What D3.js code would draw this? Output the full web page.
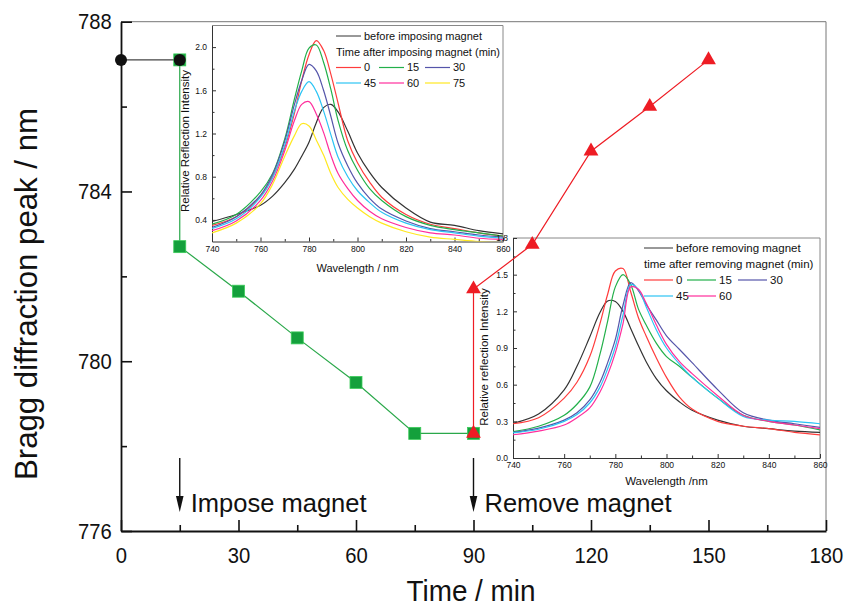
<!DOCTYPE html>
<html>
<head>
<meta charset="utf-8">
<script src="https://cdn.jsdelivr.net/npm/d3@7"></script>
<style>
  body { margin: 0; background: #fff; }
  svg text { font-family: "Liberation Sans", Arial, sans-serif; fill: #111; }
</style>
</head>
<body>
<div id="chart"></div>
<script>
// main chart data (time in min, Bragg peak in nm)
var beforeT = [0, 15];
var beforePeak = [787.1, 787.1];
var imposeT = [15, 15, 30, 45, 60, 75, 90];
var imposePeak = [787.1, 782.7, 781.65, 780.55, 779.5, 778.3, 778.3];
var removeT = [90, 90, 105, 120, 135, 150];
var removePeak = [778.3, 781.7, 782.75, 784.95, 786.0, 787.1];
var xTicks = [0, 30, 60, 90, 120, 150, 180];
var xMinor = [15, 45, 75, 105, 135, 165];
var yTicks = [776, 780, 784, 788];
var yMinor = [778, 782, 786];

// spectra, shared wavelength grid (nm)
var wl = [740, 750, 760, 765, 770, 774, 777, 780, 783, 786, 789, 792, 796, 800, 805, 810, 820, 830, 840, 850, 860];
// inset 1: imposing magnet
var impBefore = [0.385, 0.45, 0.535, 0.62, 0.745, 0.87, 0.99, 1.12, 1.30, 1.44, 1.47, 1.40, 1.22, 1.02, 0.84, 0.70, 0.51, 0.38, 0.35, 0.30, 0.27];
var imp0 = [0.35, 0.43, 0.62, 0.80, 1.07, 1.39, 1.69, 1.93, 2.06, 1.97, 1.75, 1.48, 1.13, 0.93, 0.75, 0.61, 0.45, 0.36, 0.32, 0.28, 0.25];
var imp15 = [0.36, 0.45, 0.66, 0.83, 1.15, 1.52, 1.78, 1.99, 2.02, 1.86, 1.61, 1.32, 1.04, 0.86, 0.69, 0.58, 0.43, 0.35, 0.31, 0.28, 0.25];
var imp30 = [0.33, 0.43, 0.63, 0.82, 1.13, 1.47, 1.69, 1.84, 1.78, 1.60, 1.36, 1.11, 0.90, 0.74, 0.60, 0.50, 0.39, 0.32, 0.29, 0.26, 0.24];
var imp45 = [0.32, 0.41, 0.61, 0.79, 1.09, 1.41, 1.59, 1.68, 1.59, 1.41, 1.19, 0.98, 0.80, 0.67, 0.56, 0.47, 0.37, 0.31, 0.28, 0.25, 0.23];
var imp60 = [0.30, 0.39, 0.58, 0.76, 1.04, 1.32, 1.47, 1.495, 1.38, 1.21, 1.00, 0.83, 0.69, 0.58, 0.48, 0.41, 0.33, 0.28, 0.26, 0.23, 0.22];
var imp75 = [0.28, 0.37, 0.55, 0.73, 0.99, 1.18, 1.29, 1.27, 1.14, 1.00, 0.83, 0.70, 0.59, 0.51, 0.43, 0.37, 0.29, 0.24, 0.22, 0.20, 0.19];
// inset 2: removing magnet
var remBefore = [0.284, 0.36, 0.557, 0.75, 0.99, 1.19, 1.285, 1.28, 1.20, 1.06, 0.92, 0.79, 0.65, 0.55, 0.46, 0.39, 0.31, 0.26, 0.24, 0.22, 0.21];
var rem0 = [0.28, 0.33, 0.49, 0.62, 0.83, 1.10, 1.34, 1.53, 1.55, 1.36, 1.15, 1.00, 0.82, 0.66, 0.50, 0.40, 0.30, 0.26, 0.24, 0.21, 0.19];
var rem15 = [0.215, 0.26, 0.35, 0.44, 0.58, 0.85, 1.12, 1.40, 1.50, 1.42, 1.22, 1.09, 0.94, 0.83, 0.75, 0.66, 0.49, 0.35, 0.30, 0.27, 0.23];
var rem30 = [0.21, 0.245, 0.31, 0.37, 0.475, 0.62, 0.78, 0.97, 1.25, 1.435, 1.37, 1.26, 1.13, 1.00, 0.89, 0.78, 0.56, 0.37, 0.31, 0.28, 0.25];
var rem45 = [0.205, 0.235, 0.30, 0.355, 0.45, 0.58, 0.73, 0.91, 1.17, 1.42, 1.38, 1.24, 1.05, 0.90, 0.77, 0.66, 0.49, 0.34, 0.31, 0.30, 0.28];
var rem60 = [0.19, 0.22, 0.27, 0.33, 0.41, 0.54, 0.68, 0.86, 1.10, 1.40, 1.38, 1.27, 1.09, 0.93, 0.79, 0.69, 0.51, 0.35, 0.30, 0.27, 0.24];
var wlTicks = [740, 760, 780, 800, 820, 840, 860];
var wlMinor = [750, 770, 790, 810, 830, 850];

var col = {black: "#333", red: "#ff3c3c", green: "#22b04a", purple: "#5555aa",
           cyan: "#2cc4f4", magenta: "#ff2e9c", yellow: "#ffe820"};

var svgWidth = 844, svgHeight = 606;
var svg = d3.select("#chart").append("svg")
    .attr("width", svgWidth)
    .attr("height", svgHeight);

var x = d3.scaleLinear().domain([0, 180]).range([121, 826]);
var y = d3.scaleLinear().domain([776, 788]).range([531, 21.7]);

// frame (top + right)
svg.append("path")
    .attr("d", "M" + x(0) + "," + y(788) + "H" + x(180) + "V" + y(776))
    .attr("fill", "none").attr("stroke", "#777").attr("stroke-width", 1);

//axes
var gx = svg.append("g").attr("transform", "translate(0," + y(776) + ")")
    .call(d3.axisBottom(x).tickValues(xTicks).tickSize(-11).tickPadding(16).tickSizeOuter(0));
svg.append("g").attr("transform", "translate(0," + y(776) + ")")
    .call(d3.axisBottom(x).tickValues(xMinor).tickSize(-6).tickFormat(""))
    .select(".domain").remove();
var gy = svg.append("g").attr("transform", "translate(" + x(0) + ",0)")
    .call(d3.axisLeft(y).tickValues(yTicks).tickSize(-11).tickPadding(10).tickSizeOuter(0));
svg.append("g").attr("transform", "translate(" + x(0) + ",0)")
    .call(d3.axisLeft(y).tickValues(yMinor).tickSize(-6).tickFormat(""))
    .select(".domain").remove();
svg.selectAll(".domain").attr("stroke", "#111").attr("stroke-width", 1.8);
svg.selectAll(".tick line").attr("stroke", "#111").attr("stroke-width", 1.6);
[gx, gy].forEach(function(g) {
    g.selectAll("text").style("font-size", "22px").attr("fill", "#111")
        .attr("transform", "scale(0.92,1)");
});

svg.append("text")
    .attr("x", 471).attr("y", 601)
    .attr("text-anchor", "middle")
    .style("font-size", "29px")
    .attr("textLength", 129).attr("lengthAdjust", "spacingAndGlyphs")
    .text("Time / min");
svg.append("text")
    .attr("transform", "translate(37,294) rotate(-90)")
    .attr("text-anchor", "middle")
    .style("font-size", "32px")
    .attr("textLength", 372).attr("lengthAdjust", "spacingAndGlyphs")
    .text("Bragg diffraction peak / nm");

// insets
function drawInset(cfg) {
    var ix = d3.scaleLinear().domain([740, 860]).range([cfg.left, cfg.right]);
    var iy = d3.scaleLinear().domain(cfg.yDomain).range([cfg.bottom, cfg.top]);
    var g = svg.append("g");
    g.append("path")
        .attr("d", "M" + cfg.left + "," + cfg.top + "H" + cfg.right + "V" + cfg.bottom)
        .attr("fill", "none").attr("stroke", "#888").attr("stroke-width", 1);

    var ax = g.append("g").attr("transform", "translate(0," + cfg.bottom + ")")
        .call(d3.axisBottom(ix).tickValues(wlTicks).tickSize(-4).tickPadding(4).tickSizeOuter(0));
    g.append("g").attr("transform", "translate(0," + cfg.bottom + ")")
        .call(d3.axisBottom(ix).tickValues(wlMinor).tickSize(-2.5).tickFormat(""))
        .select(".domain").remove();
    var ay = g.append("g").attr("transform", "translate(" + cfg.left + ",0)")
        .call(d3.axisLeft(iy).tickValues(cfg.yTicks).tickSize(-4).tickPadding(5)
            .tickSizeOuter(0).tickFormat(d3.format(".1f")));
    g.append("g").attr("transform", "translate(" + cfg.left + ",0)")
        .call(d3.axisLeft(iy).tickValues(cfg.yMinor).tickSize(-2.5).tickFormat(""))
        .select(".domain").remove();
    g.selectAll(".domain").attr("stroke", "#333").attr("stroke-width", 1);
    g.selectAll(".tick line").attr("stroke", "#333").attr("stroke-width", 1);
    g.selectAll(".tick text").style("font-size", "8.5px").attr("fill", "#222");

    g.append("text")
        .attr("x", (cfg.left + cfg.right) / 2).attr("y", cfg.bottom + cfg.xTitleGap)
        .attr("text-anchor", "middle").style("font-size", cfg.xTitleSize + "px")
        .text(cfg.xTitle);
    g.append("text")
        .attr("transform", "translate(" + cfg.yTitleX + "," + cfg.yTitleY + ") rotate(-90)")
        .attr("text-anchor", "middle").style("font-size", "11.5px")
        .text(cfg.yTitle);

    var clipId = "clip" + cfg.id;
    g.append("clipPath").attr("id", clipId).append("rect")
        .attr("x", cfg.left).attr("y", cfg.top)
        .attr("width", cfg.right - cfg.left).attr("height", cfg.bottom - cfg.top);
    var line = d3.line()
        .x(function(d, i) { return ix(wl[i]); })
        .y(function(d) { return iy(d); })
        .curve(d3.curveCatmullRom);
    g.append("g").attr("clip-path", "url(#" + clipId + ")")
        .selectAll("path").data(cfg.series).enter().append("path")
        .attr("d", function(s) { return line(s.values); })
        .attr("fill", "none")
        .attr("stroke", function(s) { return s.color; })
        .attr("stroke-width", 1.2);

    // legend
    var lg = g.append("g").style("font-size", cfg.legendSize + "px");
    var L = cfg.legend;
    lg.append("line").attr("x1", L.x).attr("x2", L.x + L.len)
        .attr("y1", L.rows[0]).attr("y2", L.rows[0]).attr("stroke", col.black);
    lg.append("text").attr("x", L.x + L.len + 3).attr("y", L.rows[0]).attr("dy", "0.35em")
        .text(L.first);
    lg.append("text").attr("x", L.x).attr("y", L.rows[1]).attr("dy", "0.35em")
        .text(L.second);
    cfg.series.slice(1).forEach(function(s, i) {
        var r = L.rows[2 + Math.floor(i / 3)], cx = L.cols[i % 3];
        lg.append("line").attr("x1", cx).attr("x2", cx + L.len)
            .attr("y1", r).attr("y2", r).attr("stroke", s.color).attr("stroke-width", 1.2);
        lg.append("text").attr("x", cx + L.len + 3).attr("y", r).attr("dy", "0.35em")
            .text(s.name);
    });
}

drawInset({
    id: 1, left: 212, right: 503, top: 25.5, bottom: 241.5,
    yDomain: [0.2, 2.2], yTicks: [0.4, 0.8, 1.2, 1.6, 2.0], yMinor: [0.6, 1.0, 1.4, 1.8],
    xTitle: "Wavelength / nm", xTitleSize: 11, xTitleGap: 30,
    yTitle: "Relative Reflection Intensity", yTitleX: 189, yTitleY: 141,
    legendSize: 11,
    legend: {x: 336, len: 25, cols: [336, 379, 425], rows: [36, 52, 67.5, 83],
             first: "before imposing magnet", second: "Time after imposing magnet (min)"},
    series: [
        {name: "before", values: impBefore, color: col.black},
        {name: "0", values: imp0, color: col.red},
        {name: "15", values: imp15, color: col.green},
        {name: "30", values: imp30, color: col.purple},
        {name: "45", values: imp45, color: col.cyan},
        {name: "60", values: imp60, color: col.magenta},
        {name: "75", values: imp75, color: col.yellow}
    ]
});

drawInset({
    id: 2, left: 513, right: 820, top: 238, bottom: 458,
    yDomain: [0, 1.8], yTicks: [0, 0.3, 0.6, 0.9, 1.2, 1.5, 1.8],
    yMinor: [0.15, 0.45, 0.75, 1.05, 1.35, 1.65],
    xTitle: "Wavelength /nm", xTitleSize: 11.5, xTitleGap: 27,
    yTitle: "Relative reflection Intensity", yTitleX: 488, yTitleY: 357,
    legendSize: 11.5,
    legend: {x: 644, len: 29, cols: [644, 687, 738], rows: [248, 264, 280, 296],
             first: "before removing magnet", second: "time after removing magnet (min)"},
    series: [
        {name: "before", values: remBefore, color: col.black},
        {name: "0", values: rem0, color: col.red},
        {name: "15", values: rem15, color: col.green},
        {name: "30", values: rem30, color: col.purple},
        {name: "45", values: rem45, color: col.cyan},
        {name: "60", values: rem60, color: col.magenta}
    ]
});

// annotations
var notes = [{t: 15, label: "Impose magnet"}, {t: 90, label: "Remove magnet"}];
notes.forEach(function(n) {
    var ax = x(n.t);
    svg.append("line").attr("x1", ax).attr("x2", ax).attr("y1", 458).attr("y2", 498)
        .attr("stroke", "#111").attr("stroke-width", 1.4);
    svg.append("path")
        .attr("d", "M" + (ax - 3.8) + ",496L" + (ax + 3.8) + ",496L" + ax + ",512Z")
        .attr("fill", "#111");
    svg.append("text").attr("x", ax + 11).attr("y", 512)
        .style("font-size", "25.5px").text(n.label);
});

// main series lines
function pts(ts, vs) { return ts.map(function(t, i) { return [x(t), y(vs[i])]; }); }
var mline = d3.line();
svg.append("path").attr("d", mline(pts(beforeT, beforePeak)))
    .attr("fill", "none").attr("stroke", "#444").attr("stroke-width", 1.2);
svg.append("path").attr("d", mline(pts(imposeT, imposePeak)))
    .attr("fill", "none").attr("stroke", "#2aa84a").attr("stroke-width", 1.2);
svg.append("path").attr("d", mline(pts(removeT, removePeak)))
    .attr("fill", "none").attr("stroke", "#ee1c24").attr("stroke-width", 1.2);

// markers
svg.selectAll(".sq").data(pts(imposeT, imposePeak)).enter().append("rect")
    .attr("class", "sq")
    .attr("x", function(d) { return d[0] - 6; }).attr("y", function(d) { return d[1] - 6; })
    .attr("width", 12).attr("height", 12)
    .attr("fill", "#14a03c").attr("stroke", "#3ccc5a").attr("stroke-width", 0.8);
svg.selectAll(".dot").data(pts(beforeT, beforePeak)).enter().append("circle")
    .attr("class", "dot")
    .attr("cx", function(d) { return d[0]; }).attr("cy", function(d) { return d[1]; })
    .attr("r", 6).attr("fill", "#111");
var tri = d3.symbol().type(d3.symbolTriangle).size(95);
svg.selectAll(".tri").data(pts(removeT, removePeak)).enter().append("path")
    .attr("class", "tri")
    .attr("transform", function(d) { return "translate(" + d[0] + "," + d[1] + ")"; })
    .attr("d", tri)
    .attr("fill", "#ee1c24");
</script>
</body>
</html>
